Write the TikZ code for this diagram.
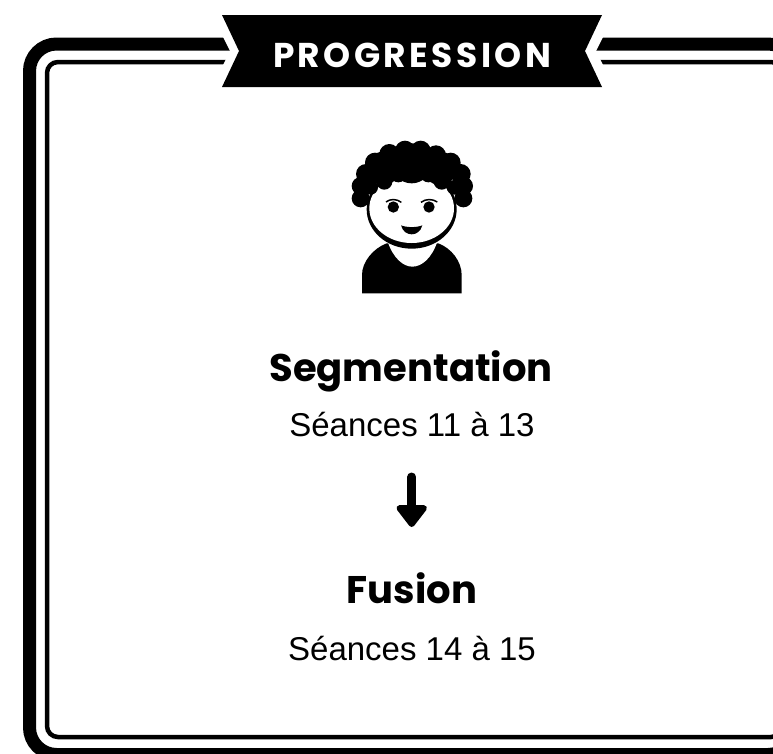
\documentclass[tikz,border=0pt]{standalone}
\usepackage{fontspec}
\setmainfont{Liberation Sans}
\newfontfamily\headfont{Poppins}[UprightFont=* Bold]
\newfontfamily\bannerfont{Poppins}[UprightFont=* Bold,LetterSpace=10]
\usetikzlibrary{arrows.meta}
\definecolor{inkcol}{RGB}{0,0,0}
\tikzset{every picture/.style={x=1pt,y=-1pt}}
\tikzset{heading/.style={font=\headfont\fontsize{38.5}{38.5}\selectfont,inner sep=0pt,anchor=base,text=inkcol}}
\tikzset{banner/.style={font=\bannerfont\fontsize{34.4}{34.4}\selectfont,inner sep=0pt,anchor=base,text=white}}
\tikzset{session/.style={font=\fontsize{33}{33}\selectfont,inner sep=0pt,anchor=base,text=inkcol}}
\tikzset{edge/.style={inkcol,line width=9pt,line cap=round,-{Triangle[length=24pt,width=35pt,round]}}}
\begin{document}
\begin{tikzpicture}
\useasboundingbox (0,0) rectangle (773,753);
\begin{scope}
\clip (0,0) rectangle (773,753);
\draw [inkcol,line width=13pt,rounded corners=27pt] (29.5,44) rectangle (795,754.5);
\draw [inkcol,line width=4.5pt,rounded corners=11pt] (47,62) rectangle (782,737);
\end{scope}
\fill [white] (210,11) -- (230,51) -- (210,91) -- (616,91) -- (596,51) -- (616,11) -- cycle;
\fill [inkcol] (222,15) -- (239,51) -- (222,87) -- (602,87) -- (585,51) -- (602,15) -- cycle;
\node [banner] (title) at (412,67) {PROGRESSION};

\begin{scope}[shift={(330,130)},scale=1/3]
\fill [inkcol] (96,490) -- (96,435) .. controls (96,395) and (130,355) .. (170,340) -- (325,340) .. controls (365,355) and (395,395) .. (395,435) -- (395,490) -- cycle;
\fill [white] (173,335) .. controls (190,385) and (220,410) .. (247,410) .. controls (275,410) and (305,385) .. (322,335) -- cycle;
\fill [inkcol] (245,238) ellipse (135 and 118);
\fill [white] (245,235) ellipse (127 and 104);
\foreach \hx/\hy/\hr in {225/62/30,272/62/30,178/72/30,318/76/30,135/98/30,362/98/30,108/132/30,392/132/30,92/168/27,402/168/27,92/205/27,400/205/27,
  122/172/22,163/155/24,205/133/24,250/128/26,295/133/24,335/155/24,372/172/22,245/100/60,160/115/50,330/115/50}
  \fill [inkcol] (\hx,\hy) circle (\hr);
\fill [inkcol] (190,231) circle (17);
\fill [inkcol] (297,231) circle (17);
\draw [inkcol,line width=1.5pt] (168,216) .. controls (180,206) and (200,206) .. (214,217);
\draw [inkcol,line width=1.5pt] (273,217) .. controls (287,206) and (307,206) .. (322,216);
\fill [inkcol] (213,286) .. controls (230,293) and (260,293) .. (277,286) .. controls (272,305) and (258,313) .. (245,313) .. controls (232,313) and (218,305) .. (213,286) -- cycle;
\end{scope}

\node [heading] (seg) at (411,381) {Segmentation};
\node [session] (segsub) at (412,436) {Séances 11 à 13};
\coordinate (arrowtop) at (411.7,477);
\coordinate (arrowtip) at (411.7,527);
\draw [edge] (arrowtop) -- (arrowtip);
\node [heading] (fus) at (412,603) {Fusion};
\node [session] (fussub) at (412,660) {Séances 14 à 15};
\end{tikzpicture}
\end{document}
